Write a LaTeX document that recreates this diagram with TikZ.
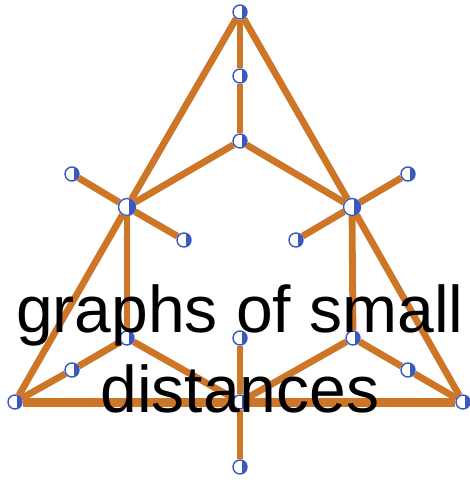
\documentclass[tikz,border=0pt]{standalone}
\usepackage{fontspec}
\setmainfont{Liberation Sans}
\usetikzlibrary{backgrounds}
\definecolor{edgeorange}{RGB}{206,118,40}
\definecolor{vertblue}{RGB}{58,88,190}
\begin{document}
\begin{tikzpicture}[x=1pt, y=-1pt,
    vert/.style={circle, draw=vertblue, line width=1.4pt, fill=white, inner sep=0pt, minimum size=14pt,
      path picture={\fill[vertblue] ([xshift=2pt]path picture bounding box.south) rectangle (path picture bounding box.north east);}},
    bigvert/.style={vert, minimum size=17pt},
    edge/.style={draw=edgeorange, line width=6.8pt},
    baseedge/.style={draw=edgeorange, line width=9pt}]
    \useasboundingbox (0,0) rectangle (470,482);
    % vertices
    \node[vert] (top)    at (240,12)  {};
    \node[vert] (upper)  at (240,76)  {};
    \node[vert] (hub)    at (240,141) {};
    \node[bigvert] (lj)  at (127,207) {};
    \node[bigvert] (rj)  at (352,207) {};
    \node[vert] (lout)   at (72,174)  {};
    \node[vert] (lin)    at (184,240) {};
    \node[vert] (rout)   at (408,174) {};
    \node[vert] (rin)    at (296,240) {};
    \node[vert] (lmid)   at (127,338) {};
    \node[vert] (cmid)   at (240,338) {};
    \node[vert] (rmid)   at (353,338) {};
    \node[vert] (lside)  at (72,370)  {};
    \node[vert] (rside)  at (408,370) {};
    \node[vert] (bl)     at (15,402)  {};
    \node[vert] (bm)     at (240,402) {};
    \node[vert] (br)     at (463,402) {};
    \node[vert] (bot)    at (240,467) {};
    % edges
    \begin{scope}[on background layer]
      \draw[edge] (top) -- (upper) -- (hub);
      \draw[edge] (top) -- (lj);
      \draw[edge] (top) -- (rj);
      \draw[edge] (hub) -- (lj);
      \draw[edge] (hub) -- (rj);
      \draw[edge] (lj) -- (lout);
      \draw[edge] (lj) -- (lin);
      \draw[edge] (rj) -- (rout);
      \draw[edge] (rj) -- (rin);
      \draw[edge] (lj) -- (lmid);
      \draw[edge] (rj) -- (rmid);
      \draw[edge] (lj) -- (bl);
      \draw[edge] (rj) -- (br);
      \draw[edge] (bl) -- (lside) -- (lmid);
      \draw[edge] (br) -- (rside) -- (rmid);
      \draw[edge] (lmid) -- (bm);
      \draw[edge] (rmid) -- (bm);
      \draw[edge] (cmid) -- (bm) -- (bot);
      \draw[baseedge] (bl) -- (bm) -- (br);
    \end{scope}
    % caption
    \node[font=\fontsize{66}{80}\selectfont, align=center, anchor=base, inner sep=0pt] (caption) at (240,412) {graphs of small\\distances};
\end{tikzpicture}
\end{document}
